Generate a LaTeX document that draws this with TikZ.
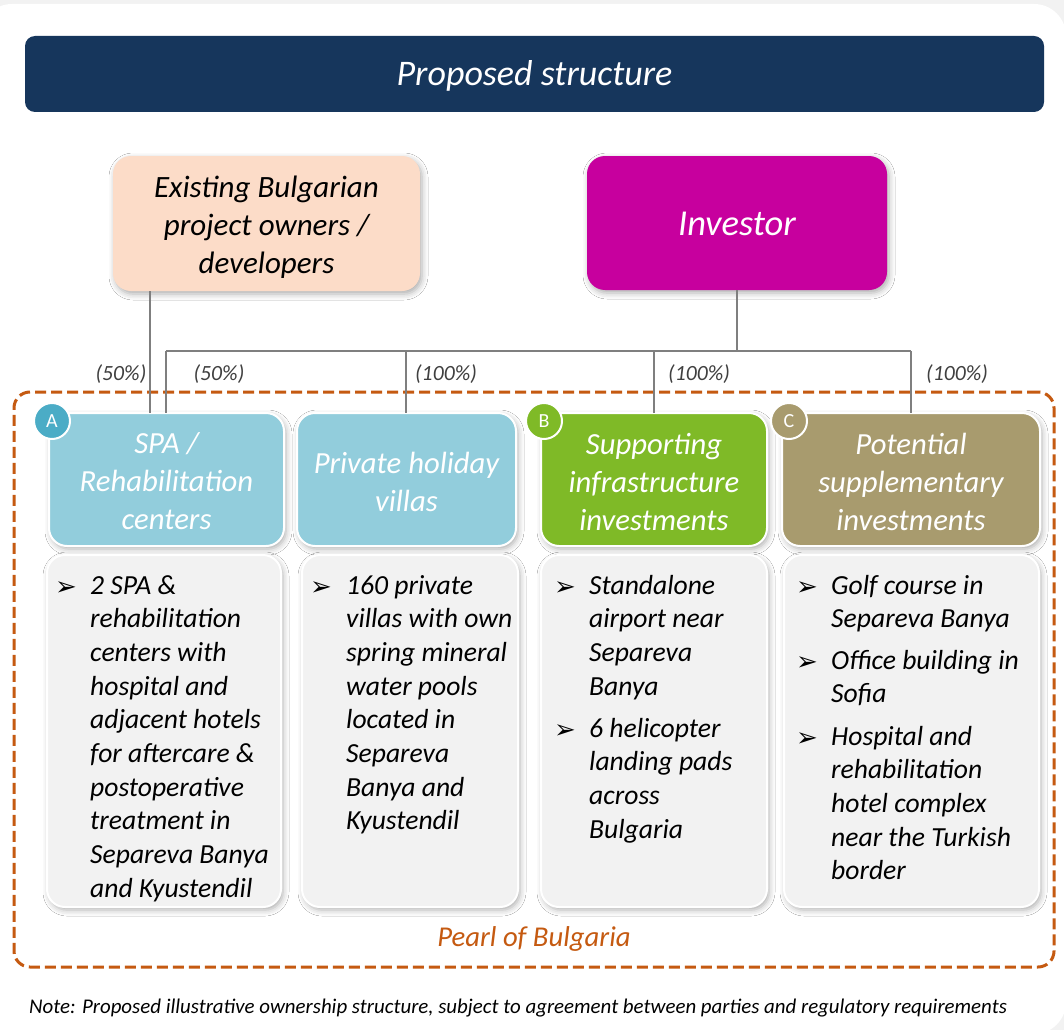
\documentclass[tikz,border=0pt]{standalone}
\usepackage{fontspec}
\setmainfont{Carlito}
\newfontfamily\dejavu{DejaVu Sans}
\usetikzlibrary{shadows.blur}
\definecolor{navy}{HTML}{16365C}
\definecolor{peach}{HTML}{FCDCC8}
\definecolor{magentabox}{HTML}{C7009E}
\definecolor{spablue}{HTML}{92CDDC}
\definecolor{badgeblue}{HTML}{4BACC6}
\definecolor{leafgreen}{HTML}{7FBA27}
\definecolor{khaki}{HTML}{A89B6E}
\definecolor{pearl}{HTML}{C55A11}
\definecolor{detailgrey}{HTML}{F2F2F2}
\definecolor{bggrey}{HTML}{F2F2F2}
\definecolor{linegrey}{HTML}{7F7F7F}
\definecolor{pcttext}{HTML}{404040}
\newcommand\detailtext[1]{\parbox[t]{230pt}{\raggedright\fontsize{27.6}{33.7}\selectfont\itshape #1}}
\tikzset{
  softshadow/.style={blur shadow={shadow xshift=2pt,shadow yshift=-3pt,shadow blur radius=6pt,shadow opacity=32}},
  titlebar/.style={anchor=north west, inner sep=0pt, outer sep=0pt, rounded corners=10pt, fill=navy,
    minimum width=1019pt, minimum height=76pt},
  ownerbox/.style={anchor=north west, inner sep=0pt, outer sep=0pt, rounded corners=18pt,
    softshadow, minimum height=135pt},
  catbox/.style={anchor=north west, inner sep=0pt, outer sep=0pt, rounded corners=18pt,
    draw=white, line width=2pt, softshadow, minimum height=133pt},
  cattext/.style={inner sep=0pt, align=center, text=white, font=\fontsize{30.7}{38}\selectfont\itshape},
  detailbox/.style={anchor=north west, inner sep=0pt, outer sep=0pt, rounded corners=18pt,
    draw=white, line width=2pt, fill=detailgrey, softshadow, minimum height=352pt},
  badge/.style={circle, draw=white, line width=2pt, text=white, minimum size=36pt, inner sep=0pt,
    font=\fontsize{20}{20}\selectfont},
  bulletmark/.style={anchor=base west, inner sep=0pt, font=\dejavu\fontsize{26}{26}\selectfont},
  itemtext/.style={anchor=base west, inner sep=0pt},
  pct/.style={anchor=base, inner sep=0pt, text=pcttext, font=\fontsize{21.7}{22}\selectfont\itshape},
  link/.style={draw=linegrey, line width=1.5pt},
  pearlframe/.style={draw=pearl, line width=3pt, dash pattern=on 11pt off 5pt, rounded corners=16pt,
    anchor=north west, inner sep=0pt, outer sep=0pt, minimum width=1040pt, minimum height=575pt}
}
\begin{document}
\begin{tikzpicture}[x=1pt,y=-1pt]
\useasboundingbox (0,0) rectangle (1064,1030);
\fill[bggrey] (0,0) rectangle (1064,1030);
\fill[white, rounded corners=32pt] (-20,4) rectangle (1066,1034);

% title
\node[titlebar] (title) at (25,36) {};
\node[inner sep=0pt, text=white, font=\fontsize{36}{42}\selectfont\itshape] (titletxt)
  at ([yshift=-2pt]title.center) {Proposed structure};

% owners
\node[ownerbox, fill=peach, minimum width=307pt] (exist) at (113,156) {};
\node[inner sep=0pt, align=center, font=\fontsize{31}{38}\selectfont\itshape] (existtxt)
  at ([yshift=-3.5pt]exist.center) {Existing Bulgarian\\project owners /\\developers};
\node[ownerbox, fill=magentabox, minimum width=300pt, minimum height=134pt] (inv) at (587,156) {};
\node[inner sep=0pt, text=white, font=\fontsize{36.5}{42}\selectfont\itshape] (invtxt)
  at ([yshift=-1pt]inv.center) {Investor};

% frame
\node[pearlframe] (frame) at (14,392) {};
\node[anchor=base, inner sep=0pt, text=pearl, font=\fontsize{28.7}{34}\selectfont\itshape] (pearltxt) at (534,946) {Pearl of Bulgaria};

% category boxes
\node[catbox, fill=spablue, minimum width=235pt] (spa) at (49,413) {};
\node[catbox, fill=spablue, minimum width=219pt] (villa) at (297,413) {};
\node[catbox, fill=leafgreen, minimum width=226pt] (supp) at (541,413) {};
\node[catbox, fill=khaki, minimum width=258pt] (pot) at (782,413) {};
\node[cattext] (spatxt) at ([yshift=-2pt]spa.center) {SPA /\\Rehabilitation\\centers};
\node[cattext] (villatxt) at ([yshift=-2pt]villa.center) {Private holiday\\villas};
\node[cattext] (supptxt) at ([yshift=-2pt]supp.center) {Supporting\\infrastructure\\investments};
\node[cattext] (pottxt) at ([yshift=-2pt]pot.center) {Potential\\supplementary\\investments};

% badges
\node[badge, fill=badgeblue] (badgeA) at (52,421) {A};
\node[badge, fill=leafgreen] (badgeB) at (544,421) {B};
\node[badge, fill=khaki] (badgeC) at (789,421) {C};

% detail boxes
\node[detailbox, minimum width=234pt] (spad) at (47,555) {};
\node[detailbox, minimum width=216pt] (villad) at (302,555) {};
\node[detailbox, minimum width=226pt] (suppd) at (541,555) {};
\node[detailbox, minimum width=255pt] (potd) at (784,555) {};

% detail texts
\node[bulletmark] (b1) at (55,595) {➢};
\node[itemtext] (t1) at (90,594) {\detailtext{2 SPA \&\\rehabilitation\\centers with\\hospital and\\adjacent hotels\\for aftercare \&\\postoperative\\treatment in\\Separeva Banya\\and Kyustendil}};

\node[bulletmark] (b2) at (310,595) {➢};
\node[itemtext] (t2) at (346,594) {\detailtext{160 private\\villas with own\\spring mineral\\water pools\\located in\\Separeva\\Banya and\\Kyustendil}};

\node[bulletmark] (b3) at (554,595) {➢};
\node[itemtext] (t3) at (589,594) {\detailtext{Standalone\\airport near\\Separeva\\Banya}};
\node[bulletmark] (b4) at (554,738) {➢};
\node[itemtext] (t4) at (589,737) {\detailtext{6 helicopter\\landing pads\\across\\Bulgaria}};

\node[bulletmark] (b5) at (796,595) {➢};
\node[itemtext] (t5) at (831,594) {\detailtext{Golf course in\\Separeva Banya}};
\node[bulletmark] (b6) at (796,670) {➢};
\node[itemtext] (t6) at (831,669) {\detailtext{Office building in\\Sofia}};
\node[bulletmark] (b7) at (796,746) {➢};
\node[itemtext] (t7) at (831,745) {\detailtext{Hospital and\\rehabilitation\\hotel complex\\near the Turkish\\border}};

% connectors
\coordinate (exdrop) at (150,351);
\coordinate (busA) at (166,351);
\coordinate (busB) at (406,351);
\coordinate (busC) at (654,351);
\coordinate (busD) at (911,351);
\draw[link] (exist.south -| exdrop) -- (exdrop |- spa.north);
\draw[link] (inv.south) -- (inv.south |- busA);
\draw[link] (busA) -- (busD);
\draw[link] (busA) -- (busA |- spa.north);
\draw[link] (busB) -- (busB |- villa.north);
\draw[link] (busC) -- (busC |- supp.north);
\draw[link] (busD) -- (busD |- pot.north);

% percentages
\node[pct] (p1) at (121,380) {(50\%)};
\node[pct] (p2) at (219,380) {(50\%)};
\node[pct] (p3) at (446,380) {(100\%)};
\node[pct] (p4) at (699,380) {(100\%)};
\node[pct] (p5) at (957,380) {(100\%)};

% note
\node[anchor=base west, inner sep=0pt, font=\fontsize{20.9}{24}\selectfont\itshape] (note) at (29,1013)
  {Note: Proposed illustrative ownership structure, subject to agreement between parties and regulatory requirements};
\end{tikzpicture}
\end{document}
